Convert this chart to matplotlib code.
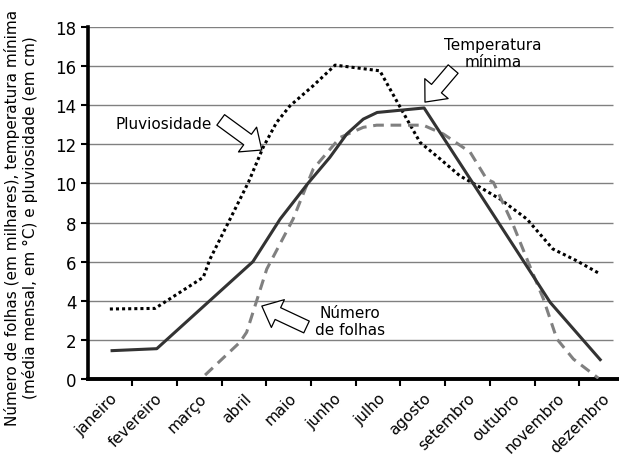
import matplotlib
matplotlib.use("Agg")
import matplotlib.pyplot as plt
import numpy as np

months = ["janeiro", "fevereiro", "março", "abril", "maio", "junho",
          "julho", "agosto", "setembro", "outubro", "novembro", "dezembro"]

# positions in month units (0 = janeiro)
temp_x = [0.05, 1.05, 3.2, 3.81, 4.43, 4.92, 5.30, 5.67, 5.98, 7.03, 9.29, 9.85, 10.97]
temp_y = [1.45, 1.55, 6.0, 8.18, 10.0, 11.33, 12.53, 13.29, 13.63, 13.86, 5.9, 3.92, 0.99]

chuva_x = [0.0, 1.01, 2.09, 2.24, 2.69, 3.10, 3.43, 3.73, 4.03, 4.55, 5.04, 6.04,
           6.56, 6.94, 7.39, 7.83, 8.21, 8.73, 9.33, 9.91, 10.44, 10.97]
chuva_y = [3.58, 3.61, 5.2, 6.13, 8.18, 10.06, 11.85, 13.12, 13.97, 15.0, 16.05, 15.76,
           13.63, 12.1, 11.25, 10.39, 9.9, 9.2, 8.18, 6.65, 6.05, 5.37]

folhas_x = [2.13, 2.91, 3.06, 3.51, 4.10, 4.55, 5.15, 5.67, 5.97, 7.01, 7.46, 8.06,
            8.43, 8.58, 9.03, 9.36, 9.70, 10.0, 10.37, 10.93]
folhas_y = [0.2, 1.88, 2.39, 5.62, 8.18, 10.74, 12.35, 12.87, 12.98, 12.98, 12.53, 11.6,
            10.22, 10.06, 7.84, 5.97, 4.09, 2.05, 1.02, 0.04]

fig = plt.figure(figsize=(6.19, 4.56), dpi=100)
ax = fig.add_axes([87.5 / 619, 76 / 456, 536.4 / 619, 352 / 456])

ax.set_xlim(-0.5, 11.5)
ax.set_ylim(0, 18)

# horizontal grid lines, stopping just short of the right edge
ax.hlines(np.arange(2, 19, 2), 0, 0.98, transform=ax.get_yaxis_transform(),
          color="#808080", linewidth=1.0, zorder=1)

ax.plot(chuva_x, chuva_y, color="black", linewidth=2.2, linestyle=(0, (1, 1)), zorder=3)
ax.plot(folhas_x, folhas_y, color="#808080", linewidth=2.2, linestyle=(0, (3.5, 2.2)), zorder=3)
ax.plot(temp_x, temp_y, color="#333333", linewidth=2.2, zorder=4)

for s in ["top", "right"]:
    ax.spines[s].set_visible(False)
ax.spines["left"].set_linewidth(2.6)
ax.spines["bottom"].set_linewidth(2.8)

ax.set_yticks(np.arange(0, 19, 2))
ax.tick_params(axis="y", length=5, width=1.5, labelsize=12, pad=3)

ax.set_xticks(np.arange(0.5, 11.5, 1))
ax.set_xticklabels([])
ax.set_xticks(np.arange(12), minor=True)
ax.set_xticklabels(months, minor=True, rotation=45, ha="right", rotation_mode="anchor")
ax.tick_params(axis="x", which="major", length=5, width=1.5)
ax.tick_params(axis="x", which="minor", length=0, labelsize=11, pad=8)

fig.text(21 / 619, 1 - 218 / 456,
         "Número de folhas (em milhares), temperatura mínima\n(média mensal, em °C) e pluviosidade (em cm)",
         rotation=90, ha="center", va="center", multialignment="center", fontsize=11)

arrow = dict(arrowstyle="simple,head_length=0.75,head_width=1.3,tail_width=0.55",
             fc="white", ec="black", lw=0.9, shrinkA=0, shrinkB=0)

ax.text(1.21, 13.09, "Pluviosidade", ha="center", va="center", fontsize=11)
ax.annotate("", xy=(3.40, 11.71), xytext=(2.48, 13.25), arrowprops=dict(arrow, mutation_scale=17))

ax.text(8.57, 16.67, "Temperatura\nmínima", ha="center", va="center",
        multialignment="center", fontsize=11, linespacing=1.15)
ax.annotate("", xy=(7.05, 14.16), xytext=(7.68, 15.85), arrowprops=dict(arrow, mutation_scale=17))

ax.text(5.37, 2.97, "Número\nde folhas", ha="center", va="center",
        multialignment="center", fontsize=11, linespacing=1.15)
ax.annotate("", xy=(3.40, 3.73), xytext=(4.40, 2.66), arrowprops=dict(arrow, mutation_scale=17))

fig.savefig("out.png", dpi=100)
